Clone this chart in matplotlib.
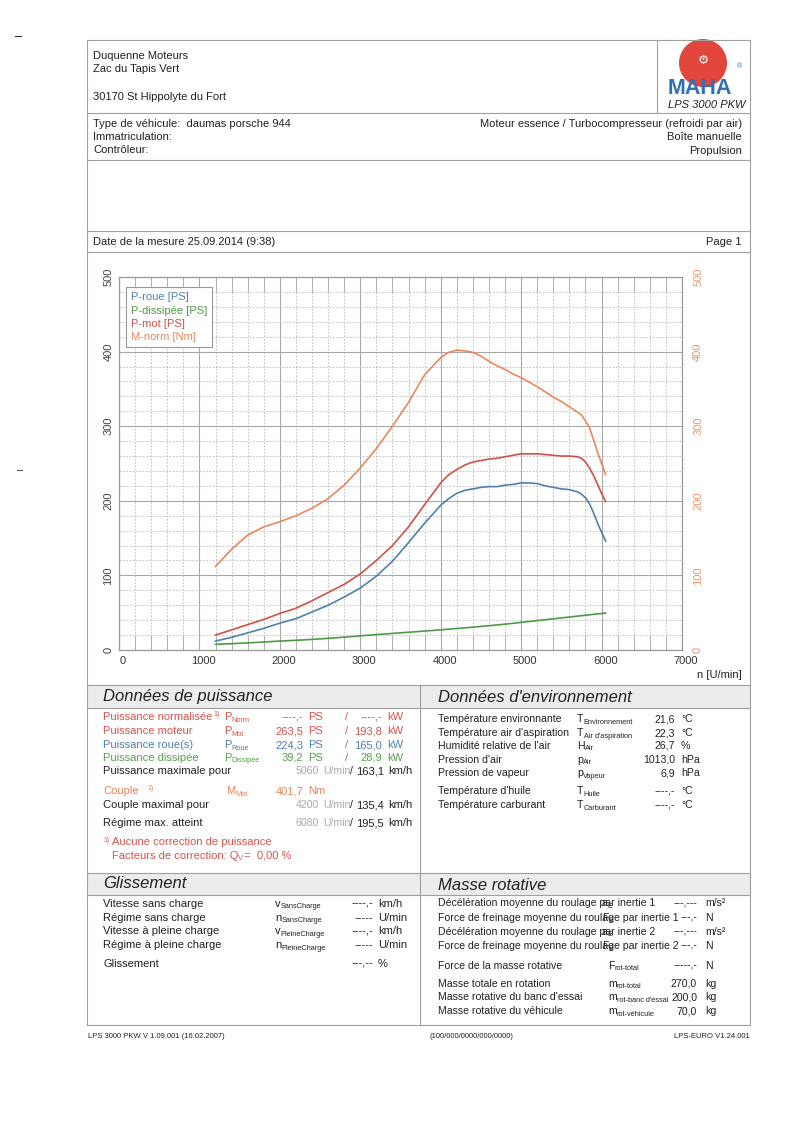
import matplotlib.pyplot as plt
from matplotlib.patches import Rectangle, Circle
from matplotlib.ticker import MultipleLocator
from matplotlib.transforms import ScaledTranslation

plt.rcParams['font.family'] = ['Liberation Sans', 'DejaVu Sans']

rpm = [1200, 1400, 1600, 1800, 2000, 2200, 2400, 2600, 2800, 3000,
       3200, 3400, 3600, 3800, 4000, 4100, 4200, 4300, 4400, 4500,
       4600, 4700, 4800, 4900, 5000, 5100, 5200, 5300, 5400, 5500,
       5600, 5700, 5750, 5800, 5850, 5900, 5950, 6000, 6050]
p_roue = [12, 17, 23, 29, 36, 42, 51, 60, 71, 83,
          99, 119, 144, 170, 194, 203, 210, 214, 216, 218,
          219, 219, 221, 222, 224, 224, 223, 220, 218, 216,
          215, 212, 209, 204, 196, 184, 170, 158, 146]
p_dissipee = [7.6, 8.5, 9.5, 10.7, 12, 13, 14.2, 15.6, 17.2, 19,
              20.6, 22.2, 23.8, 25.4, 27, 27.9, 28.8, 29.7, 30.6, 31.6,
              32.6, 33.6, 34.6, 35.8, 37, 38.2, 39.4, 40.6, 41.8, 43,
              44.2, 45.4, 46, 46.6, 47.2, 47.8, 48.4, 49, 49.6]
p_mot = [20, 27, 34, 41, 49, 56, 66, 77, 88, 102,
         120, 140, 165, 195, 224, 235, 242, 248, 252, 254,
         256, 257, 259, 261, 263, 263, 263, 262, 261, 260,
         260, 259, 257, 252, 244, 234, 222, 210, 199]
m_norm = [112, 135, 154, 165, 172, 180, 190, 203, 221, 244,
          270, 300, 332, 369, 392, 399, 402, 401, 399, 394,
          387, 381, 376, 370, 365, 359, 353, 346, 339, 333,
          326, 319, 315, 307, 298, 282, 265, 250, 235]
series_labels = ['P-roue [PS]', 'P-dissipée [PS]', 'P-mot [PS]', 'M-norm [Nm]']
x_ticks = [0, 1000, 2000, 3000, 4000, 5000, 6000, 7000]
y_ticks = [0, 100, 200, 300, 400, 500]

# --- tableaux de texte ---
power_labels = ['Puissance normalisée', 'Puissance moteur', 'Puissance roue(s)', 'Puissance dissipée']
power_subs = ['Norm', 'Mot', 'Roue', 'Dissipée']
power_ps = ['----,-', '263,5', '224,3', '39,2']
power_kw = ['----,-', '193,8', '165,0', '28,9']
speed_labels = ['Puissance maximale pour', 'Couple maximal pour', 'Régime max. atteint']
speed_rpm = ['5060', '4200', '6080']
speed_kmh = ['163,1', '135,4', '195,5']
couple_val = '401,7'

env_labels = ['Température environnante', "Température air d'aspiration", "Humidité relative de l'air",
              "Pression d'air", 'Pression de vapeur', "Température d'huile", 'Température carburant']
env_main = ['T', 'T', 'H', 'p', 'p', 'T', 'T']
env_subs = ['Environnement', "Air d'aspiration", 'Air', 'Air', 'Vapeur', 'Huile', 'Carburant']
env_vals = ['21,6', '22,3', '26,7', '1013,0', '6,9', '----,-', '----,-']
env_units = ['°C', '°C', '%', 'hPa', 'hPa', '°C', '°C']

gl_labels = ['Vitesse sans charge', 'Régime sans charge', 'Vitesse à pleine charge',
             'Régime à pleine charge', 'Glissement']
gl_main = ['v', 'n', 'v', 'n', '']
gl_subs = ['SansCharge', 'SansCharge', 'PleineCharge', 'PleineCharge', '']
gl_vals = ['----,-', '-----', '----,-', '-----', '---,--']
gl_units = ['km/h', 'U/min', 'km/h', 'U/min', '%']

mr_labels = ['Décélération moyenne du roulage par inertie 1',
             'Force de freinage moyenne du roulage par inertie 1',
             'Décélération moyenne du roulage par inertie 2',
             'Force de freinage moyenne du roulage par inertie 2',
             'Force de la masse rotative', 'Masse totale en rotation',
             "Masse rotative du banc d'essai", 'Masse rotative du véhicule']
mr_main = ['a', 'F', 'a', 'F', 'F', 'm', 'm', 'm']
mr_subs = ['E', 'E', 'E', 'E', 'rot-total', 'rot-total', "rot-banc d'essai", 'rot-véhicule']
mr_vals = ['---,---', '---,-', '---,---', '---,-', '-----,-', '270,0', '200,0', '70,0']
mr_units = ['m/s²', 'N', 'm/s²', 'N', 'N', 'kg', 'kg', 'kg']

INK = '#222222'
LINE = '#a0a0a0'
RED = '#d8524a'
BLUE = '#4d80b0'
GREEN = '#58a04c'
ORANGE = '#e8845a'
LIGHT = '#a9a9a9'

fig = plt.figure(figsize=(8, 11.21), dpi=100)
pg = fig.add_axes([0, 0, 1, 1])
pg.set_xlim(0, 800)
pg.set_ylim(1121, 0)
pg.axis('off')
renderer = fig.canvas.get_renderer()


def txt(x, y, s, size=8, color=INK, ha='left', **kw):
    return pg.text(x, y, s, fontsize=size, color=color, ha=ha, va='center', **kw)


def sym(x, y, main, sub, color=INK, size=8):
    t = txt(x, y, main, color=color, size=size)
    w = t.get_window_extent(renderer).width
    txt(x + w, y + 3, sub, size=5.3, color=color)


def hline(y, x0=87, x1=750):
    pg.plot([x0, x1], [y, y], color=LINE, lw=0.8)


def vline(x, y0, y1):
    pg.plot([x, x], [y0, y1], color=LINE, lw=0.8)


# cadres
for y in [40, 113, 160, 231, 252, 685, 708, 873, 895, 1025]:
    hline(y)
vline(87, 40, 1025)
vline(750, 40, 1025)
vline(657, 40, 113)
vline(420, 685, 1025)
pg.add_patch(Rectangle((87.5, 685.5), 662, 22, facecolor='#ececec', edgecolor='none', zorder=0))
pg.add_patch(Rectangle((87.5, 873.5), 662, 21, facecolor='#ececec', edgecolor='none', zorder=0))

# traces de scan
pg.plot([15, 21], [36, 36], color='#333333', lw=0.8)
pg.plot([17, 22], [470, 470], color='#555555', lw=0.8)

# en-tete
txt(93, 56, 'Duquenne Moteurs')
txt(93, 69, 'Zac du Tapis Vert')
txt(93, 97, '30170 St Hippolyte du Fort')
pg.add_patch(Circle((703, 63), 24, facecolor='#e2453c', edgecolor='none'))
pg.text(703, 60, '\u2699', fontsize=9, color='white', ha='center', va='center', family='DejaVu Sans')
txt(700, 89, 'MAHA', size=15.5, color='#2f70b6', ha='center', weight='bold')
txt(737, 67, '®', size=5, color='#2f70b6')
txt(745, 105, 'LPS 3000 PKW', ha='right', style='italic')

txt(93, 124, 'Type de véhicule:  daumas porsche 944')
txt(93, 137, 'Immatriculation:')
txt(93, 150, 'Contrôleur:')
txt(742, 124, 'Moteur essence / Turbocompresseur (refroidi par air)', ha='right')
txt(742, 137, 'Boîte manuelle', ha='right')
txt(742, 151, 'Propulsion', ha='right')
txt(93, 242, 'Date de la mesure 25.09.2014 (9:38)')
txt(742, 242, 'Page 1', ha='right')

# graphe
ax = fig.add_axes([119 / 800, 1 - 650 / 1121, 563 / 800, 373 / 1121])
ax2 = ax.twinx()
l1, = ax.plot(rpm, p_roue, color='#5080ad', lw=1.2)
l2, = ax.plot(rpm, p_dissipee, color='#4f9a45', lw=1.2)
l3, = ax.plot(rpm, p_mot, color='#d2504a', lw=1.2)
l4, = ax2.plot(rpm, m_norm, color='#ea875d', lw=1.2)
for a in (ax, ax2):
    a.set_xlim(0, 7000)
    a.set_ylim(0, 500)
    for sp in a.spines.values():
        sp.set_color('#999999')
        sp.set_linewidth(0.8)
ax.set_xticks(x_ticks)
ax.xaxis.set_minor_locator(MultipleLocator(200))
ax.set_yticks(y_ticks)
ax.yaxis.set_minor_locator(MultipleLocator(20))
ax2.set_yticks(y_ticks)
ax.grid(which='major', color='#a8a8a8', lw=0.8)
ax.grid(which='minor', color='#b8b8b8', lw=0.6, ls=(0, (2, 2)))
ax.set_axisbelow(True)
ax.tick_params(axis='x', which='both', direction='in', length=10.5, width=0.6,
               color='#aaaaaa', top=True, labelsize=8, labelcolor='#333333', pad=4)
ax.tick_params(axis='y', which='both', length=0, labelsize=8, labelcolor='#444444',
               labelrotation=90, pad=4)
ax2.tick_params(axis='y', which='both', length=0, labelsize=8, labelcolor='#eb9470',
                labelrotation=90, pad=8)
for lab in ax.get_yticklabels() + ax2.get_yticklabels():
    lab.set_verticalalignment('center')
shift = ScaledTranslation(0.04, 0, fig.dpi_scale_trans)
for lab in ax.get_xticklabels():
    lab.set_transform(lab.get_transform() + shift)

leg = ax2.legend([l1, l2, l3, l4], series_labels, loc='upper left',
                 bbox_to_anchor=(0.012, 0.972), borderaxespad=0, handlelength=0,
                 handletextpad=0, labelcolor=['#5080ad', '#4f9a45', '#d2504a', '#ea875d'],
                 fancybox=False, edgecolor='#999999', framealpha=1, fontsize=8,
                 borderpad=0.45, labelspacing=0.28)
leg.get_frame().set_linewidth(0.8)
txt(742, 675, 'n [U/min]', ha='right')

# Donnees de puissance
txt(103, 697, 'Données de puissance', size=12, style='italic')
power_y = [717, 731, 745, 758]
power_col = [RED, RED, BLUE, GREEN]
for i in range(len(power_labels)):
    y, c = power_y[i], power_col[i]
    txt(103, y, power_labels[i], color=c)
    sym(224, y, 'P', power_subs[i], color=c)
    txt(303, y, power_ps[i], color=c, ha='right')
    txt(308, y, 'PS', color=c)
    txt(345, y, '/', color=c)
    txt(382, y, power_kw[i], color=c, ha='right')
    txt(387, y, 'kW', color=c)
txt(213, 714, '1)', size=5, color=RED)

speed_y = [771, 805, 823]
for i in range(len(speed_labels)):
    y = speed_y[i]
    txt(103, y, speed_labels[i])
    txt(319, y, speed_rpm[i], color=LIGHT, ha='right', size=7.6)
    txt(323, y, 'U/min', color=LIGHT, size=7.6)
    txt(350, y, '/', size=7.6)
    txt(384, y, speed_kmh[i], ha='right')
    txt(388, y, 'km/h')
txt(103, 791, 'Couple', color=ORANGE)
txt(147, 788, '1)', size=5, color=ORANGE)
sym(226, 791, 'M', 'Mot', color=ORANGE)
txt(303, 791, couple_val, color=ORANGE, ha='right')
txt(308, 791, 'Nm', color=ORANGE)
txt(103, 840, '1)', size=5, color=RED)
txt(112, 842, 'Aucune correction de puissance', color=RED)
sym(112, 856, 'Facteurs de correction: Q', 'V', color=RED)
txt(243, 856, '=', color=RED)
txt(257, 856, '0,00 %', color=RED)

# Donnees d'environnement
RS = 7.6
txt(438, 697, "Données d'environnement", size=12, style='italic')
env_y = [719, 733, 746, 760, 773, 791, 805]
for i in range(len(env_labels)):
    y = env_y[i]
    txt(438, y, env_labels[i], size=RS)
    sym(577, y, env_main[i], env_subs[i], size=RS)
    txt(675, y, env_vals[i], ha='right', size=RS)
    txt(681, y, env_units[i], size=RS)

# Glissement
txt(103, 884, 'Glissement', size=12, style='italic')
gl_y = [904, 918, 931, 945, 964]
for i in range(len(gl_labels)):
    y = gl_y[i]
    txt(103, y, gl_labels[i])
    if gl_main[i]:
        sym(275, y, gl_main[i], gl_subs[i])
    txt(373, y, gl_vals[i], ha='right')
    txt(378, y, gl_units[i])

# Masse rotative
txt(438, 886, 'Masse rotative', size=12, style='italic')
mr_y = [903, 918, 932, 946, 966, 984, 997, 1011]
for i in range(len(mr_labels)):
    y = mr_y[i]
    txt(438, y, mr_labels[i], size=RS)
    sym(602 if i < 4 else 608, y, mr_main[i], mr_subs[i], size=RS)
    txt(697, y, mr_vals[i], ha='right', size=RS)
    txt(705, y, mr_units[i], size=RS)

# pied de page
txt(88, 1036, 'LPS 3000 PKW V 1.09.001 (16.02.2007)', size=5.5)
txt(430, 1036, '(100/000/0000/000/0000)', size=5.5)
txt(750, 1036, 'LPS-EURO V1.24.001', size=5.5, ha='right')

fig.savefig('out.png', dpi=100, facecolor='white')
